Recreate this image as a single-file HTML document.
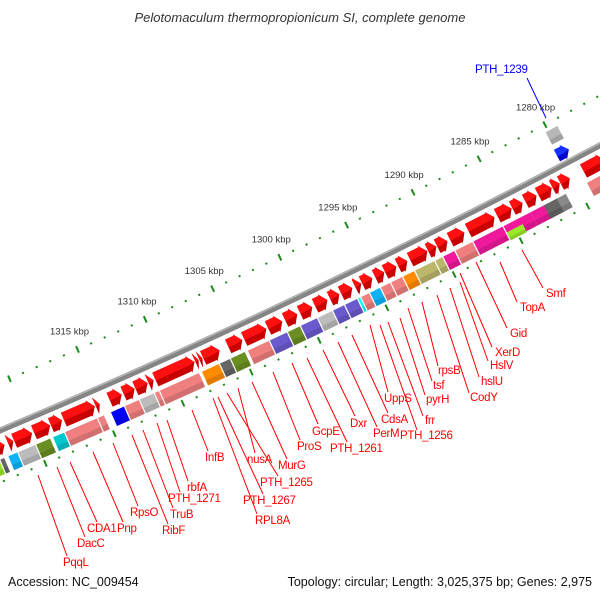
<!DOCTYPE html>
<html><head><meta charset="utf-8"><style>
html,body{margin:0;padding:0;background:#fff;}
svg{display:block;font-family:"Liberation Sans",sans-serif;}
</style></head><body>
<svg id="map" width="600" height="600" viewBox="0 0 600 600">
<text x="300" y="22" text-anchor="middle" font-size="13" font-style="italic" fill="#333">Pelotomaculum thermopropionicum SI, complete genome</text>
<text x="8" y="586" font-size="12.5" fill="#111">Accession: NC_009454</text>
<text x="592" y="586" text-anchor="end" font-size="12.5" fill="#111">Topology: circular; Length: 3,025,375 bp; Genes: 2,975</text>
<g id="rings"></g><g id="feat"></g><g id="labels"></g>
</svg>
<script>
// ---- data (kbp) ----
const tickLabelsKbp = [1280,1285,1290,1295,1300,1305,1310,1315];
const cdsStart = [1322.0,1321.36,1320.0,1318.69,1317.82,1315.43,1315.07,1313.47,1312.52,1311.57,1311.13,1308.13,1307.83,1307.55,1306.28,1304.61,1302.84,1301.66,1300.55,1299.44,1298.32,1297.43,1296.47,1295.80,1294.98,1294.09,1293.19,1292.37,1290.88,1290.20,1289.37,1288.10,1285.84,1284.56,1283.73,1282.68,1281.54,1280.93,1280.17,1277.5];
const cdsEnd   = [1322.9,1321.8,1321.36,1319.92,1318.69,1317.75,1315.43,1314.41,1313.39,1312.52,1311.57,1311.06,1308.13,1307.83,1307.55,1305.71,1304.53,1302.77,1301.51,1300.40,1299.29,1298.18,1297.36,1296.32,1295.80,1294.83,1294.09,1293.12,1292.22,1290.88,1290.20,1289.23,1287.87,1285.69,1284.56,1283.58,1282.60,1281.54,1280.93,1279.19];
const cogStart = [1322.71,1322.35,1321.41,1320.11,1319.02,1318.01,1315.62,1315.11,1313.65,1312.56,1311.47,1311.10,1308.16,1306.69,1305.89,1304.79,1303.02,1301.69,1300.73,1299.47,1298.35,1297.46,1296.50,1296.27,1295.61,1294.80,1294.04,1293.15,1292.25,1290.75,1290.15,1289.25,1287.90,1285.64,1284.36,1283.53,1282.39,1281.48,1280.88,1277.5];
const cogEnd   = [1323.5,1322.71,1322.13,1321.41,1320.11,1318.88,1318.01,1315.62,1314.67,1313.65,1312.56,1311.47,1311.10,1308.02,1306.69,1305.89,1304.64,1303.02,1301.69,1300.73,1299.47,1298.35,1297.46,1296.50,1296.27,1295.61,1294.80,1294.04,1293.15,1292.25,1290.75,1290.15,1289.25,1287.90,1285.64,1284.51,1283.61,1282.62,1281.64,1279.36];
const cogColor = ["#9be82a","#666","#0fb3f5","#bcbcbc","#6b8e23","#00c8cc","#f08080","#f08080","#0000ff","#f08080","#bcbcbc","#f08080","#f08080","#ff8c00","#666","#6b8e23","#f08080","#6a5acd","#6b8e23","#6a5acd","#bcbcbc","#6a5acd","#6a5acd","#00ffff","#f08080","#0fb3f5","#f08080","#f08080","#ff8c00","#bdb76b","#bdb76b","#f0189b","#f08080","#f0189b","#f0189b","#f0189b","#f0189b","#666","#888","#f08080"];
const limeStart = [1284.40];
const limeEnd = [1285.60];
const revCogStart=[1279.3], revCogEnd=[1280.2];
const revCdsStart=[1279.35], revCdsEnd=[1280.25];

// ---- geometry ----
const CX=-2783, CY=-6198, A0=62.24, DEG_PER_KBP=4.16/35;
const NS="http://www.w3.org/2000/svg";
function ang(k){return (A0+(k-1280)*DEG_PER_KBP)*Math.PI/180;}
function pt(k,r){const a=ang(k);return [CX+r*Math.cos(a),CY+r*Math.sin(a)];}
function mk(tag,attrs,parent){const e=document.createElementNS(NS,tag);for(const k in attrs)e.setAttribute(k,attrs[k]);parent.appendChild(e);return e;}
function poly(pts){return pts.map(p=>p[0].toFixed(2)+","+p[1].toFixed(2)).join(" ");}
const rings=document.getElementById('rings'), feat=document.getElementById('feat'), labs=document.getElementById('labels');

// backbone
const b1=pt(1275,7189), b2=pt(1326,7189);
let bb=mk('path',{d:`M${b1[0]},${b1[1]} A7189 7189 0 0 1 ${b2[0]},${b2[1]}`,stroke:'#858585','stroke-width':6,fill:'none'},rings);


let bh=mk('path',{d:`M${pt(1275,7187)} A7187 7187 0 0 1 ${pt(1326,7187)}`,stroke:'#b5b5b5','stroke-width':1.5,fill:'none'},rings);



// tick rings
for(let k=1276;k<=1323;k++){
  const major=(k%5===0);
  [7145,7237].forEach(r=>{
    const h=major?3.5:1;
    const p1=pt(k,r-h),p2=pt(k,r+h);
    const t=mk('line',{x1:p1[0],y1:p1[1],x2:p2[0],y2:p2[1],stroke:'#1a8a1a','stroke-width':2},rings);
    
    
  });
}
tickLabelsKbp.forEach(k=>{
  const p=pt(k,7125);
  const t=mk('text',{x:p[0],y:p[1]+3.5,'text-anchor':'middle','font-size':'9.5',fill:'#333'},rings);
  t.textContent=k+' kbp';
  
  
});

// CDS arrows (pointing to lower bp)
function arrow(s,e,r0,r1,fillMain,fillTop,name){
  const hl=Math.min(0.42,e-s), mid=(r0+r1)/2;
  const br0=r0+1.5, br1=r1-1.5;
  const g=mk('g',{},feat);
  
  
  const pts=[pt(e,br0),pt(s+hl,br0),pt(s+hl,r0),pt(s,mid),pt(s+hl,r1),pt(s+hl,br1),pt(e,br1)];
  mk('polygon',{points:poly(pts),fill:fillMain},g);
  const top=[pt(e,br0),pt(s+hl,br0),pt(s+hl,r0),pt(s,mid),pt(s+hl,mid+1),pt(e,mid+1)];
  mk('polygon',{points:poly(top),fill:fillTop},g);
}
for(let i=0;i<cdsStart.length;i++){
  arrow(cdsStart[i]+0.03,cdsEnd[i]-0.03,7195,7213,'#c80000','#ff1010','cds-arrow');
}
for(let i=0;i<revCdsStart.length;i++){
  arrow(revCdsStart[i],revCdsEnd[i],7170,7186,'#0000cc','#1530ff','cds-arrow-reverse');
}
// COG boxes
function box(s,e,r0,r1,color,name){
  const g=mk('g',{},feat);
  
  
  mk('polygon',{points:poly([pt(e,r0),pt(s,r0),pt(s,r1),pt(e,r1)]),fill:color},g);
  const rm=r0+(r1-r0)*0.62;
  mk('polygon',{points:poly([pt(e,rm),pt(s,rm),pt(s,r1),pt(e,r1)]),fill:'#000','fill-opacity':0.12},g);
}
for(let i=0;i<cogStart.length;i++){
  box(cogStart[i]+0.04,cogEnd[i]-0.04,7216,7231,cogColor[i],'cog-box');
}
for(let i=0;i<limeStart.length;i++){
  box(limeStart[i],limeEnd[i],7223,7232,'#9be82a','cog-box-overlap');
}
for(let i=0;i<revCogStart.length;i++){
  box(revCogStart[i],revCogEnd[i],7152,7166,'#b8b8b8','cog-box-reverse');
}

// gene labels: [text,x,y,x1,y1,x2,y2]
const geneLabels=[
["Smf",546,297,522,250,543,288],["TopA",520,311,500,262,517,302],["Gid",510,337,476,262,507,328],
["XerD",495,356,460,273,492,347],["HslV",490,369,460,282,488,361],["hslU",481,385,450,288,479,377],
["CodY",470,401,437,295,469,393],["rpsB",438,374,422,302,438,366],["tsf",433,389,408,308,432,381],
["pyrH",426,403,400,318,425,395],["frr",425,424,388,322,423,416],["PTH_1256",400,439,380,325,417,430],
["UppS",384,402,370,325,388,392],["CdsA",381,423,352,335,388,413],["PerM",373,437,338,342,377,427],
["Dxr",350,427,323,350,355,416],["PTH_1261",330,452,307,358,347,442],["GcpE",312,435,292,363,318,424],
["ProS",297,450,273,372,300,440],["MurG",278,469,252,382,287,459],["nusA",247,463,238,388,255,453],
["PTH_1265",260,486,227,393,278,476],["PTH_1267",243,504,218,397,263,494],["RPL8A",255,524,213,398,257,514],
["InfB",205,461,192,410,208,451],["rbfA",187,491,167,420,188,481],["PTH_1271",168,502,157,423,180,492],
["TruB",170,518,143,430,173,508],["RibF",162,534,132,435,168,524],["RpsO",130,516,113,443,138,506],
["Pnp",117,532,93,452,123,522],["CDA1",87,532,70,462,97,522],["DacC",77,547,57,467,85,537],
["PqqL",63,566,38,475,67,556]];
geneLabels.forEach(L=>{
  const l=mk('line',{x1:L[3],y1:L[4],x2:L[5],y2:L[6],stroke:'#ff0000','stroke-width':1},labs);
  
  
  const t=mk('text',{x:L[1],y:L[2],'font-size':'11.5','letter-spacing':'-0.3',fill:'#ff0000'},labs);
  t.textContent=L[0];
  
  
});
const bl=mk('line',{x1:527,y1:78,x2:546,y2:118,stroke:'#0000ff','stroke-width':1},labs);


const bt=mk('text',{x:475,y:73,'font-size':'11.5','letter-spacing':'-0.3',fill:'#0000ff'},labs);
bt.textContent='PTH_1239';


</script>
</body></html>
